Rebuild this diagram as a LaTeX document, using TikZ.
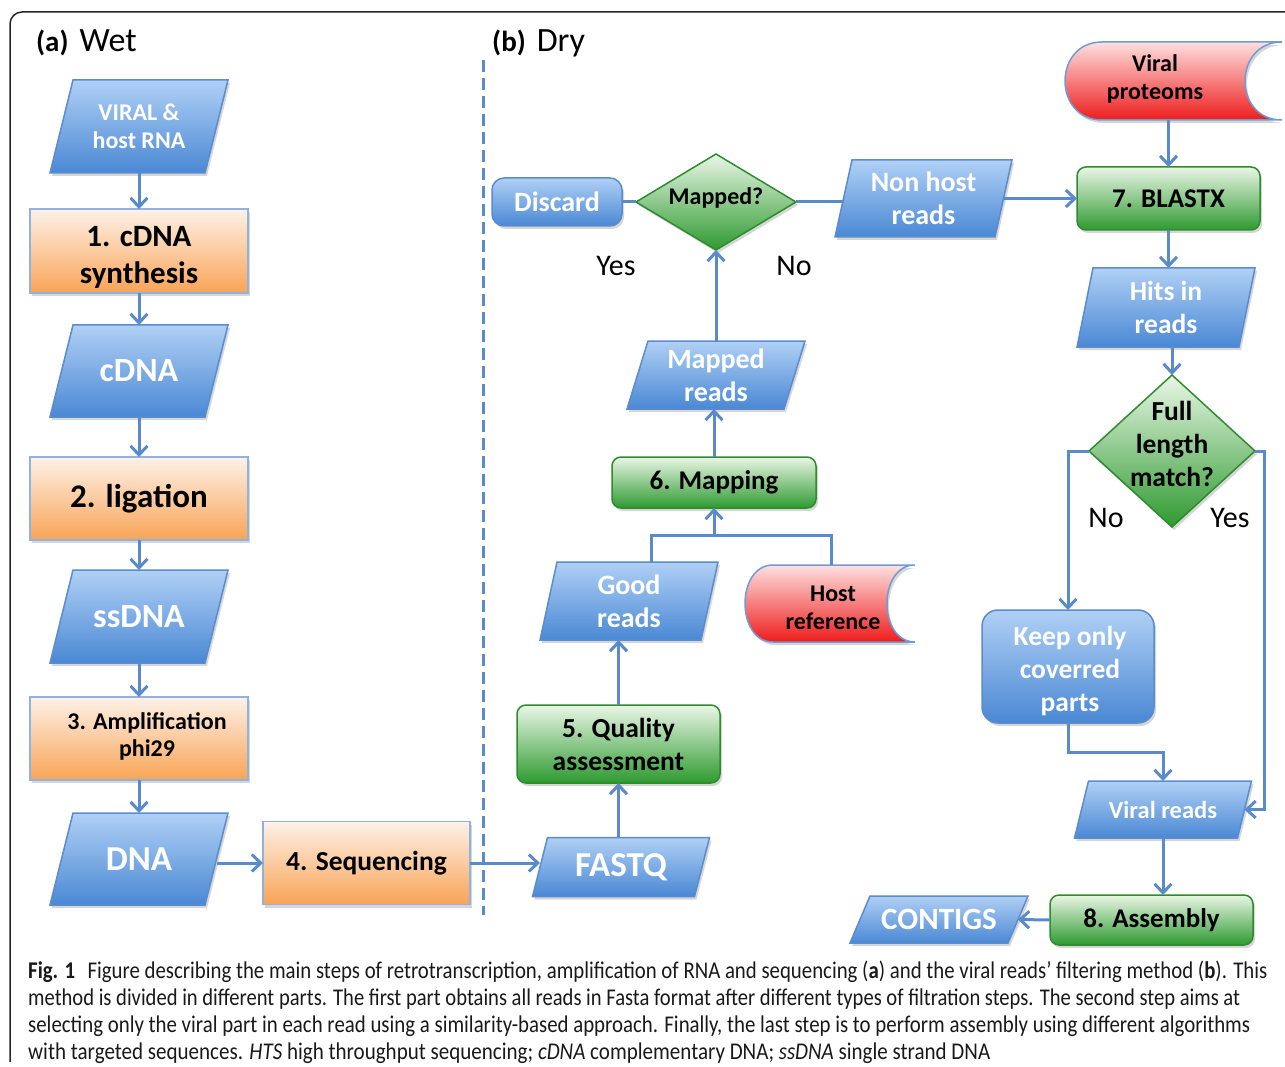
\documentclass[tikz,border=0pt]{standalone}
\usepackage{fontspec}
\setmainfont{Carlito}
\usetikzlibrary{arrows.meta,calc,shadows}
\definecolor{connC}{HTML}{5B8ACB}
\definecolor{bTop}{HTML}{B0D0F5}
\definecolor{bBot}{HTML}{4A88D4}
\definecolor{bLine}{HTML}{5A8CCF}
\definecolor{oTop}{HTML}{FEF1E8}
\definecolor{oBot}{HTML}{F8A456}
\definecolor{oLine}{HTML}{8FB3E0}
\definecolor{gTop}{HTML}{EAF6E6}
\definecolor{gBot}{HTML}{2E9A30}
\definecolor{gLine}{HTML}{2E8B2E}
\definecolor{rTop}{HTML}{FFE0E0}
\definecolor{rBot}{HTML}{EE1C1C}
\definecolor{rLine}{HTML}{6F9BD6}
\newcommand\fs[2]{\fontsize{#1}{#2}\selectfont}
\tikzset{
  shd/.style={drop shadow={opacity=0.16, shadow xshift=2pt, shadow yshift=-3pt, fill=black}},
  conn/.style={draw=connC, line width=3pt},
  arr/.style={conn, -{Straight Barb[length=9pt,width=17pt]}},
  parashape/.style={shd, draw=bLine, line width=1.5pt, top color=bTop, bottom color=bBot},
  diashape/.style={shd, draw=gLine, line width=1.5pt, top color=gTop, bottom color=gBot},
  storeshape/.style={shd, draw=rLine, line width=1.5pt, top color=rTop, bottom color=rBot},
  anchorbox/.style={draw=none, inner sep=0pt, outer sep=0pt, align=center},
  fsz/.style 2 args={font=\bfseries\fontsize{#1}{#2}\selectfont},
  orect/.style={shd, draw=oLine, line width=1.5pt, top color=oTop, bottom color=oBot, inner sep=0pt, outer sep=0pt, align=center},
  grect/.style={shd, draw=gLine, line width=1.5pt, top color=gTop, bottom color=gBot, rounded corners=9pt, inner sep=0pt, outer sep=0pt, align=center},
  brect/.style={shd, draw=bLine, line width=1.5pt, top color=bTop, bottom color=bBot, rounded corners=12pt, inner sep=0pt, outer sep=0pt, align=center, text=white},
  lbl/.style={inner sep=0pt, font=\fontsize{30}{34}\selectfont},
}
% name, cx, cy, w, h, slant, fontsize, skip, text
\newcommand\mypara[9]{%
  \shadedraw[parashape] ({#2-#4/2+#6/2},{#3-#5/2}) -- ({#2+#4/2+#6/2},{#3-#5/2}) -- ({#2+#4/2-#6/2},{#3+#5/2}) -- ({#2-#4/2-#6/2},{#3+#5/2}) -- cycle;
  \node[anchorbox, text=white, minimum width=#4pt, minimum height=#5pt, fsz={#7}{#8}] (#1) at (#2,#3) {#9};}
% name, x0, y0, x1, y1, depth, textcx, textcy, text
\newcommand\mystore[9]{%
  \shadedraw[storeshape] ({#2+#6},#3) -- (#4,#3) .. controls ({#4-1.333*#6},#3) and ({#4-1.333*#6},#5) .. (#4,#5) -- ({#2+#6},#5) .. controls ({#2-0.333*#6},#5) and ({#2-0.333*#6},#3) .. ({#2+#6},#3) -- cycle;
  \node[anchorbox, minimum height={(#5-#3)*1pt}] (#1) at (#7,{(#3+#5)/2}) {};
  \node[anchorbox, fsz={24}{28}] (#1t) at (#7,#8) {#9};}
% name, cx, cy, hw, hh, fontsize, skip, text, dy
\newcommand\mydiamond[9]{%
  \shadedraw[diashape] (#2,{#3-#5}) -- ({#2+#4},#3) -- (#2,{#3+#5}) -- ({#2-#4},#3) -- cycle;
  \node[anchorbox, minimum width={2*#4pt}, minimum height={2*#5pt}] (#1) at (#2,#3) {};
  \node[anchorbox, fsz={#6}{#7}] (#1t) at (#2,{#3+#9}) {#8};}
\begin{document}
\begin{tikzpicture}[x=1pt,y=-1pt]
\useasboundingbox (0,0) rectangle (1285,1067);
% frame
\coordinate (fa) at (10,1062);
\coordinate (fb) at (10,12);
\coordinate (fc) at (1285,12);
\draw[line width=1.5pt, black!85, rounded corners=12pt] (fa) -- (fb) -- (fc);
% titles
\node[anchor=base west, inner sep=0pt] (ta) at (36,52) {\fs{29}{32}\bfseries (a)\hspace{11pt}\mdseries\fs{34}{38}Wet};
\node[anchor=base west, inner sep=0pt] (tb) at (492,52) {\fs{29}{32}\bfseries (b)\hspace{11pt}\mdseries\fs{34}{38}Dry};
% dashed divider
\coordinate (dtop) at (483,60);
\coordinate (dbot) at (483,915);
\draw[connC, line width=3pt, dash pattern=on 12pt off 6pt] (dtop) -- (dbot);
% ---- wet column
\mypara{rna}{139}{126.5}{155}{93}{23}{24}{28}{VIRAL \&\\host RNA}
\node[orect, minimum width=218pt, minimum height=84pt] (s1) at (139,251) {};
\node[anchorbox, fsz={31}{37}] (s1t) at (139,257) {1. cDNA\\synthesis};
\mypara{cdna}{139}{371}{155}{92}{23}{34}{38}{cDNA}
\node[orect, minimum width=218pt, minimum height=83pt, fsz={33}{38}] (s2) at (139,498.5) {2. ligation};
\mypara{ssdna}{139}{616.5}{155}{93}{23}{34}{38}{ssDNA}
\node[orect, minimum width=218pt, minimum height=83pt] (s3) at (139,738.5) {};
\node[anchorbox, fsz={24}{27}] (s3t) at (147,736) {3. Amplification\\phi29};
\mypara{dna}{139}{859}{155}{92}{23}{35}{38}{DNA}
\node[orect, minimum width=207pt, minimum height=83pt, fsz={27.5}{32}] (s4) at (366.5,863) {4. Sequencing};
% ---- dry column
\mypara{fastq}{621}{867}{162}{59}{15}{35}{38}{FASTQ}
\node[grect, minimum width=203pt, minimum height=78pt, fsz={27.5}{33}] (s5) at (618.5,744) {5. Quality\\assessment};
\mypara{good}{629}{601}{161}{78}{17}{28}{33}{Good\\reads}
\mystore{host}{745}{565}{915}{642}{28}{833}{608}{Host\\reference}
\node[grect, minimum width=204pt, minimum height=51pt, fsz={27}{30}] (s6) at (714,482.5) {6. Mapping};
\mypara{mapr}{716}{375}{157}{68}{21}{28}{33}{Mapped\\reads}
\mydiamond{mapq}{716}{202}{80}{48}{24}{26}{Mapped?}{-4}
\node[brect, minimum width=130pt, minimum height=48pt, fsz={28}{30}] (discard) at (557,202) {Discard};
\mypara{nonhost}{923.5}{198.5}{160}{77}{17}{28}{33}{Non host\\reads}
\mystore{vprot}{1065}{42}{1282}{120}{37}{1155}{79}{Viral\\proteoms}
\node[grect, minimum width=183pt, minimum height=63pt, fsz={27}{30}] (s7) at (1168.5,198.5) {7. BLASTX};
\mypara{hits}{1166}{307.5}{162}{79}{16}{27.5}{33}{Hits in\\reads}
\mydiamond{full}{1172}{451}{83}{76}{27.5}{33}{Full\\length\\match?}{-7}
\node[brect, rounded corners=16pt, minimum width=172pt, minimum height=113pt] (keep) at (1068,666.5) {};
\node[anchorbox, text=white, fsz={27.5}{33}] (keept) at (1070,671) {Keep only\\coverred\\parts};
\mypara{vreads}{1163}{809.5}{163}{57}{14}{24.5}{28}{Viral reads}
\node[grect, minimum width=203pt, minimum height=50pt, fsz={27}{30}] (s8) at (1151.5,920) {8. Assembly};
\mypara{contigs}{939}{919.5}{158}{47}{20}{31}{34}{CONTIGS}
% labels
\node[lbl] (yes1) at (616,266) {Yes};
\node[lbl] (no1) at (794,266) {No};
\node[lbl] (no2) at (1106,518) {No};
\node[lbl] (yes2) at (1230,518) {Yes};
% ---- connectors wet
\draw[arr] (rna.south) -- (s1.north);
\draw[arr] (s1.south) -- (cdna.north);
\draw[arr] (cdna.south) -- (s2.north);
\draw[arr] (s2.south) -- (ssdna.north);
\draw[arr] (ssdna.south) -- (s3.north);
\draw[arr] (s3.south) -- (dna.north);
\draw[arr] (dna.east |- s4.west) -- (s4.west);
\draw[arr] (s4.east) -- (s4.east -| fastq.west);
% ---- connectors dry
\draw[arr] (fastq.north -| s5.south) -- (s5.south);
\draw[arr] (s5.north) -- (s5.north |- good.south);
\coordinate (j1) at (651,535);
\coordinate (j2) at (831,535);
\draw[conn] (good.north -| j1) -- (j1) -- (j2) -- (j2 |- host.north);
\draw[arr] (s6.south |- j1) -- (s6.south);
\draw[arr] (s6.north) -- (s6.north |- mapr.south);
\draw[arr] (mapr.north -| mapq.south) -- (mapq.south);
\draw[conn] (mapq.west) -- (discard.east);
\draw[conn] (mapq.east) -- (mapq.east -| nonhost.west);
\draw[arr] (nonhost.east) -- (s7.west);
\draw[arr] (vprot.south -| s7.north) -- (s7.north);
\draw[arr] (s7.south) -- (s7.south |- hits.north);
\draw[arr] (hits.south -| full.north) -- (full.north);
\draw[arr] (full.west) -| (keep.north);
\coordinate (r1) at (1264,451);
\draw[arr] (full.east) -- (r1) |- (vreads.east);
\coordinate (k1) at (1068,752);
\draw[arr] (keep.south) -- (k1) -| (vreads.north);
\draw[arr] (vreads.south) -- (vreads.south |- s8.north);
\draw[arr] (s8.west) -- (contigs.east);
% ---- caption
\node[anchor=base west, inner sep=0pt, text=black!90] (cap1) at (28,978) {\resizebox{1239pt}{\height}{\fs{24}{26}\textbf{Fig. 1}\hspace{0.6em}Figure describing the main steps of retrotranscription, amplification of RNA and sequencing (\textbf{a}) and the viral reads’ filtering method (\textbf{b}). This}};
\node[anchor=base west, inner sep=0pt, text=black!90] (cap2) at (28,1005) {\resizebox{1212pt}{\height}{\fs{24}{26}method is divided in different parts. The first part obtains all reads in Fasta format after different types of filtration steps. The second step aims at}};
\node[anchor=base west, inner sep=0pt, text=black!90] (cap3) at (28,1032) {\resizebox{1222pt}{\height}{\fs{24}{26}selecting only the viral part in each read using a similarity-based approach. Finally, the last step is to perform assembly using different algorithms}};
\node[anchor=base west, inner sep=0pt, text=black!90] (cap4) at (28,1059) {\resizebox{962pt}{\height}{\fs{24}{26}with targeted sequences. \textit{HTS} high throughput sequencing; \textit{cDNA} complementary DNA; \textit{ssDNA} single strand DNA}};
\end{tikzpicture}
\end{document}
